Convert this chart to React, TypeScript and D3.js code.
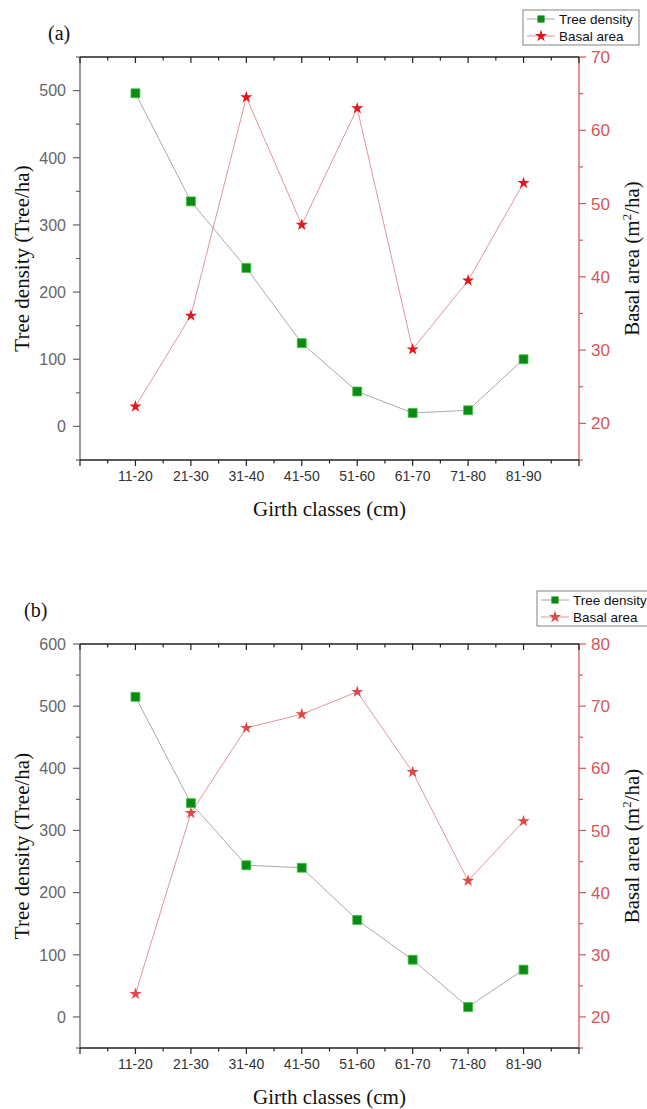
import React from 'react';
import * as d3 from 'd3';

// girth classes on the x axis
const categories = ['11-20', '21-30', '31-40', '41-50', '51-60', '61-70', '71-80', '81-90'];

// panel (a)
const densityA = [496, 335, 236, 124, 52, 20, 24, 100];
const basalA = [22.3, 34.7, 64.5, 47.1, 63.0, 30.1, 39.5, 52.8];
const leftTicksA = [0, 100, 200, 300, 400, 500];
const rightTicksA = [20, 30, 40, 50, 60, 70];

// panel (b)
const densityB = [515, 344, 244, 240, 156, 92, 16, 76];
const basalB = [23.7, 52.8, 66.5, 68.7, 72.3, 59.4, 41.9, 51.5];
const leftTicksB = [0, 100, 200, 300, 400, 500, 600];
const rightTicksB = [20, 30, 40, 50, 60, 70, 80];

const W = 647;
const H = 1109;
const sans = '"Liberation Sans", Arial, sans-serif';
const serif = '"Liberation Serif", "Times New Roman", serif';

type PanelProps = {
  top: number;
  bottom: number;
  leftDomain: [number, number];
  rightDomain: [number, number];
  leftTicks: number[];
  rightTicks: number[];
  density: number[];
  basal: number[];
  label: string;
  labelX: number;
  labelY: number;
  legendX: number;
  legendY: number;
  starColor: string;
};

function Panel(p: PanelProps) {
  const left = 80;
  const right = 579;
  const x = d3.scaleLinear().domain([0, 9]).range([left, right]);
  const yL = d3.scaleLinear().domain(p.leftDomain).range([p.bottom, p.top]);
  const yR = d3.scaleLinear().domain(p.rightDomain).range([p.bottom, p.top]);

  const densLine = d3.line<number>().x((d, i) => x(i + 1)).y(d => yL(d));
  const basalLine = d3.line<number>().x((d, i) => x(i + 1)).y(d => yR(d));
  const square = d3.symbol(d3.symbolSquare, 80)();
  const star = d3.symbol(d3.symbolStar, 46)();

  const xMajor = d3.range(0, 10);
  const xMinor = d3.range(0.5, 9, 1);
  const lMinor = d3.range(p.leftDomain[0], p.leftDomain[1] + 1, 50).filter(v => v % 100 !== 0);
  const rMinor = d3.range(p.rightDomain[0], p.rightDomain[1] + 0.1, 5).filter(v => v % 10 !== 0);

  const grey = '#666';
  const red = '#d65656';
  const midY = (p.top + p.bottom) / 2;

  return (
    <g>
      {/* series lines */}
      <path d={basalLine(p.basal) || ''} fill="none" stroke="#e08a8a" strokeWidth={0.9} />
      <path d={densLine(p.density) || ''} fill="none" stroke="#a0a0a0" strokeWidth={0.9} />

      {/* left axis */}
      <line x1={left} x2={left} y1={p.top} y2={p.bottom} stroke={grey} strokeWidth={1.3} />
      {p.leftTicks.map(v => (
        <g key={'l' + v}>
          <line x1={left - 7} x2={left} y1={yL(v)} y2={yL(v)} stroke={grey} strokeWidth={1.2} />
          <text x={left - 14} y={yL(v)} dy="0.36em" textAnchor="end" fontFamily={sans} fontSize={16} fill={grey}>{v}</text>
        </g>
      ))}
      {lMinor.map(v => (
        <line key={'lm' + v} x1={left - 4} x2={left} y1={yL(v)} y2={yL(v)} stroke={grey} strokeWidth={1.2} />
      ))}

      {/* right axis */}
      <line x1={right} x2={right} y1={p.top} y2={p.bottom} stroke={red} strokeWidth={1.3} />
      {p.rightTicks.map(v => (
        <g key={'r' + v}>
          <line x1={right} x2={right + 7} y1={yR(v)} y2={yR(v)} stroke={red} strokeWidth={1.2} />
          <text x={right + 12} y={yR(v)} dy="0.36em" fontFamily={sans} fontSize={17} fill={red}>{v}</text>
        </g>
      ))}
      {rMinor.map(v => (
        <line key={'rm' + v} x1={right} x2={right + 4} y1={yR(v)} y2={yR(v)} stroke={red} strokeWidth={1.2} />
      ))}

      {/* bottom and top axes */}
      <line x1={left} x2={right} y1={p.bottom} y2={p.bottom} stroke="#222" strokeWidth={1.5} />
      <line x1={left} x2={right} y1={p.top} y2={p.top} stroke="#222" strokeWidth={1.5} />
      {xMajor.map(v => (
        <g key={'x' + v}>
          <line x1={x(v)} x2={x(v)} y1={p.bottom} y2={p.bottom + 6} stroke="#222" strokeWidth={1.2} />
          <line x1={x(v)} x2={x(v)} y1={p.top} y2={p.top + 6} stroke="#222" strokeWidth={1.2} />
        </g>
      ))}
      {xMinor.map(v => (
        <g key={'xm' + v}>
          <line x1={x(v)} x2={x(v)} y1={p.bottom} y2={p.bottom + 3.5} stroke="#222" strokeWidth={1.2} />
          <line x1={x(v)} x2={x(v)} y1={p.top} y2={p.top + 3.5} stroke="#222" strokeWidth={1.2} />
        </g>
      ))}
      {categories.map((c, i) => (
        <text key={c} x={x(i + 1)} y={p.bottom + 21} textAnchor="middle" fontFamily={sans} fontSize={14} fill="#333">{c}</text>
      ))}

      {/* markers */}
      {p.basal.map((v, i) => (
        <path key={'s' + i} d={star || ''} transform={`translate(${x(i + 1)},${yR(v)})`} fill={p.starColor} />
      ))}
      {p.density.map((v, i) => (
        <path key={'q' + i} d={square || ''} transform={`translate(${x(i + 1)},${yL(v)})`} fill="#0b8a14" stroke="#3fbf3f" strokeWidth={0.8} />
      ))}

      {/* titles */}
      <text x={(left + right) / 2} y={p.bottom + 56} textAnchor="middle" fontFamily={serif} fontSize={21} fill="#111">Girth classes (cm)</text>
      <text transform={`translate(29,${midY}) rotate(-90)`} textAnchor="middle" fontFamily={serif} fontSize={21} fill="#111">Tree density (Tree/ha)</text>
      <text transform={`translate(639,${midY}) rotate(-90)`} textAnchor="middle" fontFamily={serif} fontSize={21} fill="#111">
        Basal area (m<tspan dy={-8} fontSize={13}>2</tspan><tspan dy={8}>/ha)</tspan>
      </text>
      <text x={p.labelX} y={p.labelY} fontFamily={serif} fontSize={20} fill="#111">{p.label}</text>

      {/* legend */}
      <g transform={`translate(${p.legendX},${p.legendY})`}>
        <rect x={0} y={0} width={116} height={35} fill="#fff" stroke="#777" strokeWidth={0.9} />
        <line x1={4} x2={32} y1={9} y2={9} stroke="#a0a0a0" strokeWidth={0.9} />
        <path d={square || ''} transform="translate(18,9) scale(0.8)" fill="#0b8a14" />
        <text x={36} y={9} dy="0.36em" fontFamily={sans} fontSize={13.5} fill="#111">Tree density</text>
        <line x1={4} x2={32} y1={26} y2={26} stroke="#e08a8a" strokeWidth={0.9} />
        <path d={star || ''} transform="translate(18,26)" fill={p.starColor} />
        <text x={36} y={26} dy="0.36em" fontFamily={sans} fontSize={13.5} fill="#111">Basal area</text>
      </g>
    </g>
  );
}

export default function App() {
  return (
    <svg width={W} height={H} style={{ position: 'absolute', left: 0, top: 0, background: '#fff' }}>
      <Panel
        top={57} bottom={460}
        leftDomain={[-50, 550]} rightDomain={[15, 70]}
        leftTicks={leftTicksA} rightTicks={rightTicksA}
        density={densityA} basal={basalA}
        label="(a)" labelX={48} labelY={40}
        legendX={523} legendY={10}
        starColor="#e3161c"
      />
      <Panel
        top={644} bottom={1048}
        leftDomain={[-50, 600]} rightDomain={[15, 80]}
        leftTicks={leftTicksB} rightTicks={rightTicksB}
        density={densityB} basal={basalB}
        label="(b)" labelX={24} labelY={617}
        legendX={537} legendY={591}
        starColor="#e04848"
      />
    </svg>
  );
}
